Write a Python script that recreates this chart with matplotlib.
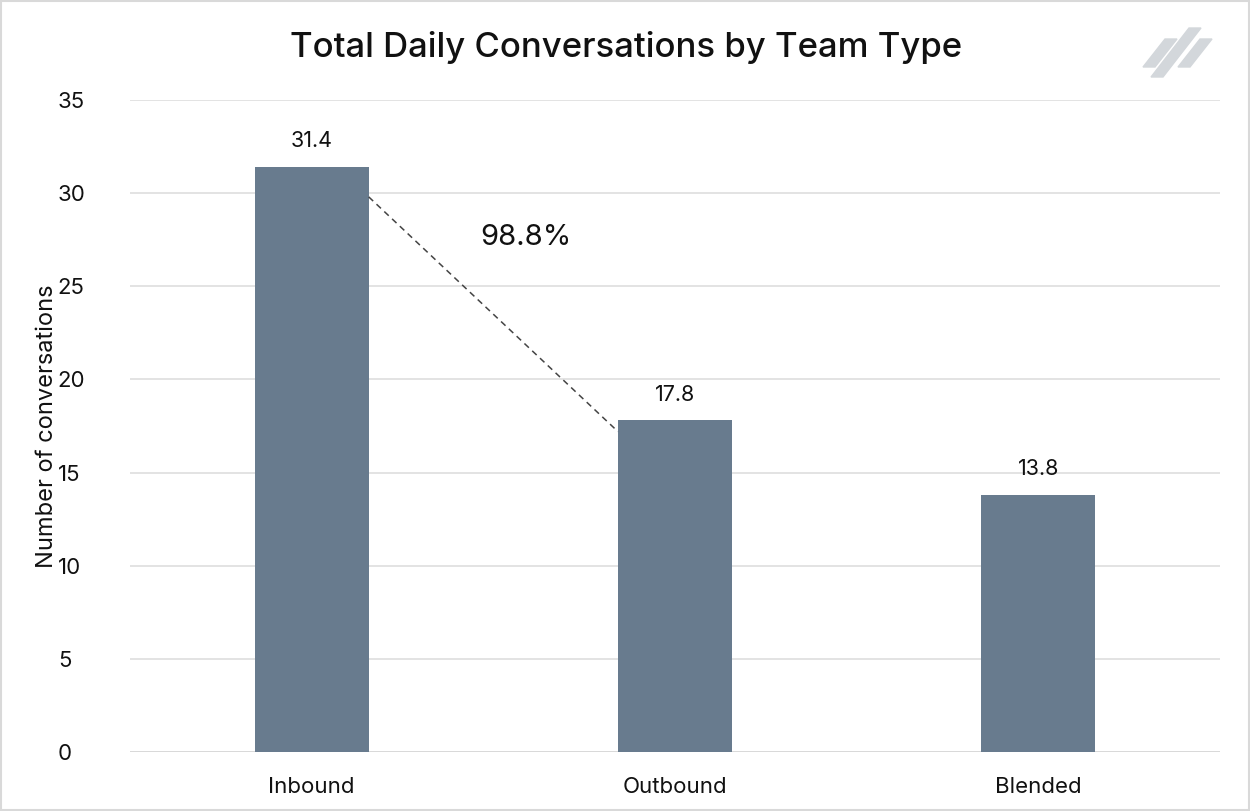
import matplotlib.pyplot as plt
from matplotlib.patches import Polygon, Rectangle

plt.rcParams['font.family'] = ['Inter', 'DejaVu Sans']

# data
teams = ['Inbound', 'Outbound', 'Blended']
conversations = [31.4, 17.8, 13.8]
pct_label = '98.8%'

bar_color = '#687b8e'
W, H = 1250, 811

fig = plt.figure(figsize=(W / 100, H / 100), dpi=100)
ax = fig.add_axes([130 / W, 1 - 752 / H, 1090 / W, 652 / H])

x = list(range(len(teams)))
bw = 0.314
ax.bar(x, conversations, width=bw, color=bar_color, zorder=3)
for xi, v in zip(x, conversations):
    ax.text(xi, v + 0.85, f'{v:.1f}', ha='center', va='bottom', fontsize=15.5, color='#111111')

# dashed connector between first two bars
ax.plot([x[0] + bw / 2, x[1] - bw / 2], [conversations[0] - 1.6, conversations[1] - 0.6],
        ls=(0, (4, 3)), color='#444444', lw=1.1, zorder=4)
ax.text(0.59, 27.6, pct_label, ha='center', va='center', fontsize=21, color='#111111')

ax.set_xlim(-0.5, 2.5)
ax.set_ylim(0, 35)
ax.set_yticks(range(0, 36, 5))
ax.set_xticks(x)
ax.set_xticklabels(teams)
ax.tick_params(axis='both', length=0, labelsize=16, colors='#111111')
for lbl in ax.get_yticklabels():
    lbl.set_horizontalalignment('left')
ax.tick_params(axis='y', pad=52)
ax.tick_params(axis='x', pad=18)
ax.grid(axis='y', color='#e0e0e0', lw=1.3, zorder=0)
for s in ax.spines.values():
    s.set_visible(False)
ax.axhline(0, color='#d9d9d9', lw=1.3, zorder=2)
ax.set_ylabel('Number of conversations', fontsize=17, color='#111111')
ax.yaxis.set_label_coords((58 - 130) / 1090, 0.5)

fig.text(626 / W, 1 - 47 / H, 'Total Daily Conversations by Team Type',
         ha='center', va='center', fontsize=25, fontweight='medium', color='#111111')

# logo
logo = '#d3d7db'
stripes = [
    [(1143, 67), (1155, 67), (1177, 39), (1165, 39)],
    [(1151, 77), (1163, 77), (1201, 28), (1189, 28)],
    [(1178, 67), (1190, 67), (1212, 39), (1200, 39)],
]
for pts in stripes:
    fig.patches.append(Polygon([(px / W, 1 - py / H) for px, py in pts], closed=True,
                               transform=fig.transFigure, color=logo))

# frame
fig.patches.append(Rectangle((0.001, 0.001), 0.998, 0.998, transform=fig.transFigure,
                             fill=False, edgecolor='#d9d9d9', lw=1.5))

fig.savefig('out.png', dpi=100)
